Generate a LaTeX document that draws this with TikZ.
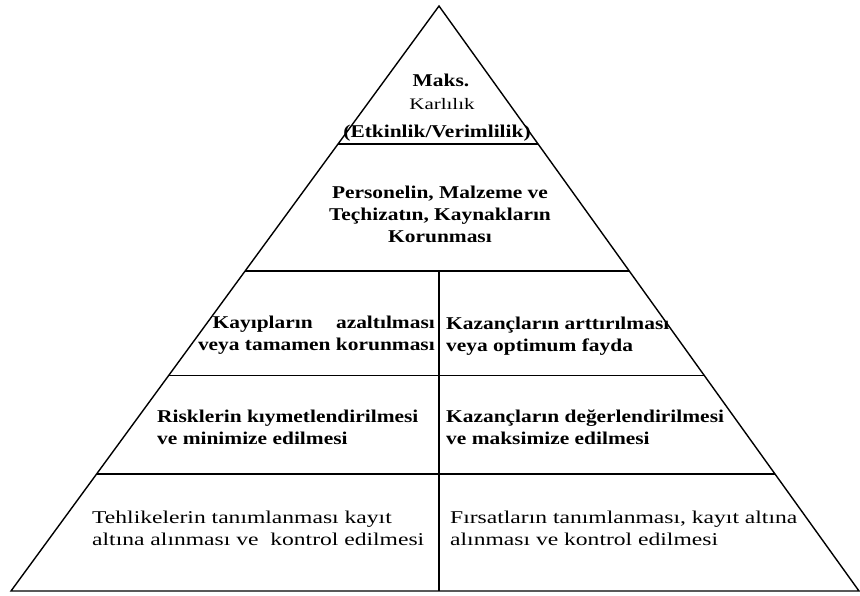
\documentclass[tikz,border=0pt]{standalone}
\usepackage{fontspec}
\setmainfont{Liberation Serif}
\newfontfamily\widefont[FakeStretch=1.19]{Liberation Serif}
\newfontfamily\widerfont[FakeStretch=1.31]{Liberation Serif}
\usepackage{tikz}
\usetikzlibrary{calc}

\begin{document}
\begin{tikzpicture}[
  x=1pt,y=-1pt,
  edge/.style={line width=1.4pt,line join=miter},
  lvl/.style={line width=1.4pt},
  boldtxt/.style={font=\widefont\bfseries\fontsize{18}{22}\selectfont,inner sep=0pt},
  lighttxt/.style={font=\widerfont\fontsize{18}{22}\selectfont,inner sep=0pt}]
  \useasboundingbox (0,0) rectangle (860,596);
  % pyramid outline
  \coordinate (apex) at (439,6);
  \coordinate (bl) at (11,591);
  \coordinate (br) at (859,591);
  \draw[edge] (apex) -- (bl) -- (br) -- cycle;
  % level lines
  \foreach \t in {0.236,0.453,0.632,0.800}
    \draw[lvl] ($(apex)!\t!(bl)$) -- ($(apex)!\t!(br)$);
  % middle split
  \coordinate (vtop) at (439,271);
  \coordinate (vbot) at (439,591);
  \draw[lvl] (vtop) -- (vbot);
  % top
  \node[boldtxt] (maks) at (441,80) {Maks.};
  \node[font=\widerfont\fontsize{16}{20}\selectfont,inner sep=0pt] (karl) at (442,104) {Karlılık};
  \node[boldtxt] (verim) at (437,133) {(Etkinlik/Verimlilik)};
  \node[boldtxt,align=center] (pers) at (440,214)
    {Personelin, Malzeme ve\\Teçhizatın, Kaynakların\\Korunması};
  % left column
  \node[boldtxt,align=right,anchor=east] (kayip) at (435,335)
    {Kayıpların\quad\ azaltılması\\veya tamamen korunması};
  \node[boldtxt,align=left,anchor=west] (risk) at (157,427)
    {Risklerin kıymetlendirilmesi\\ve minimize edilmesi};
  \node[lighttxt,align=left,anchor=west] (tehlike) at (92,528)
    {Tehlikelerin tanımlanması kayıt\\altına alınması ve\ \ kontrol edilmesi};
  % right column
  \node[boldtxt,align=left,anchor=west] (kazart) at (446,336)
    {Kazançların arttırılması\\veya optimum fayda};
  \node[boldtxt,align=left,anchor=west] (kazdeg) at (446,427)
    {Kazançların değerlendirilmesi\\ve maksimize edilmesi};
  \node[lighttxt,align=left,anchor=west] (firsat) at (450,528)
    {Fırsatların tanımlanması, kayıt altına\\alınması ve kontrol edilmesi};
\end{tikzpicture}
\end{document}
